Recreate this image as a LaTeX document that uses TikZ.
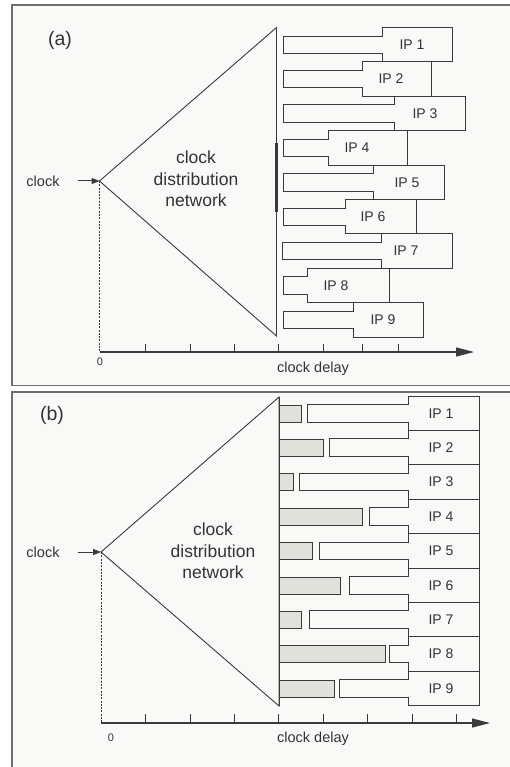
\documentclass[tikz,border=0pt]{standalone}
\usepackage{fontspec}
\setmainfont{Liberation Sans}
\usetikzlibrary{arrows.meta}
\definecolor{bg}{HTML}{F9F9F8}
\definecolor{ln}{HTML}{3A3A3A}
\definecolor{fr}{HTML}{6E6E6E}
\definecolor{barfill}{HTML}{E1E1DC}
\definecolor{txt}{HTML}{333333}
\tikzset{
  frame/.style={draw=fr, line width=1.3pt},
  tri/.style={draw=ln, line width=0.9pt, line join=miter},
  ipbox/.style={draw=ln, line width=0.9pt, fill=bg},
  gbar/.style={draw=ln, line width=0.9pt, fill=barfill},
  iplabel/.style={text=txt, font=\fontsize{14}{16}\selectfont, inner sep=0pt},
  biglabel/.style={text=txt, font=\fontsize{17.5}{21.5}\selectfont, align=center, inner sep=0pt},
  smalllabel/.style={text=txt, font=\fontsize{14.5}{16}\selectfont, inner sep=0pt},
  panellabel/.style={text=txt, font=\fontsize{19.5}{22}\selectfont, inner sep=0pt},
  axis/.style={draw=ln, line width=1.1pt, -{Triangle[length=18pt,width=9pt]}},
  tick/.style={draw=ln, line width=0.9pt},
  guide/.style={draw=ln, line width=0.8pt, dash pattern=on 2pt off 1.3pt},
  clkarrow/.style={draw=ln, line width=1pt, -{Triangle[length=8pt,width=6pt]}},
}
% IP shape: #1 top y, #2 stalk left, #3 box left, #4 box right
\newcommand{\ipshape}[4]{%
  \draw[ipbox] (#2,#1+8.5) -- (#3,#1+8.5) -- (#3,#1) -- (#4,#1) -- (#4,#1+34.4)
    -- (#3,#1+34.4) -- (#3,#1+26) -- (#2,#1+26) -- cycle;}
\begin{document}
\begin{tikzpicture}[x=1pt,y=-1pt]
\useasboundingbox (0,0) rectangle (509,767);
\fill[white] (0,0) rectangle (509,767);
\fill[bg] (12,5) rectangle (512,385.5);
\fill[bg] (12,392) rectangle (512,772);
\draw[frame] (12,385.5) -- (512,385.5);
\draw[frame] (512,5) -- (12,5) -- (12,385.5);
\draw[frame] (512,392) -- (12,392) -- (12,772);

% ================= panel (a) =================
\node[panellabel] (la) at (60,40) {(a)};
\coordinate (aA) at (99.5,181);
\coordinate (aT) at (276.5,27.5);
\coordinate (aB) at (276.5,336);
\draw[tri] (aA) -- (aT) -- (aB) -- cycle;
\coordinate (tbt) at (276.5,143);
\coordinate (tbb) at (276.5,212);
\draw[draw=ln, line width=2.1pt] (tbt) -- (tbb);
\node[biglabel] (cdna) at (196,179) {clock\\distribution\\network};
\node[smalllabel] (clka) at (43,181) {clock};
\coordinate (clkas) at (78,181);
\draw[clkarrow] (clkas) -- (aA);
\coordinate (a0) at (99.5,352);
\coordinate (aend) at (474,352);
\draw[guide] (aA) -- (a0);
\draw[axis] (a0) -- (aend);
\foreach \x in {145,190,234,278,323,362,398}
  \draw[tick] (\x,352) -- (\x,344);
\node[text=txt, font=\fontsize{11}{12}\selectfont, inner sep=0pt] (za) at (100,362) {0};
\node[smalllabel] (cda) at (313,369) {clock delay};

\ipshape{27.5}{283}{382}{452}
\ipshape{61.9}{283}{362}{431}
\ipshape{96.3}{283}{394}{465}
\ipshape{130.7}{283}{328}{407}
\ipshape{165.1}{283}{373}{444}
\ipshape{199.5}{283}{345}{416}
\ipshape{233.9}{282}{381}{452}
\ipshape{268.3}{283}{307}{389}
\ipshape{302.7}{283}{353}{423}
\node[iplabel] (ipa1) at (412,44.7) {IP 1};
\node[iplabel] (ipa2) at (391,79.1) {IP 2};
\node[iplabel] (ipa3) at (425,113.5) {IP 3};
\node[iplabel] (ipa4) at (357,147.9) {IP 4};
\node[iplabel] (ipa5) at (407,182.3) {IP 5};
\node[iplabel] (ipa6) at (373,216.7) {IP 6};
\node[iplabel] (ipa7) at (406,251.1) {IP 7};
\node[iplabel] (ipa8) at (336,285.5) {IP 8};
\node[iplabel] (ipa9) at (383,319.9) {IP 9};

% ================= panel (b) =================
\node[panellabel] (lb) at (52,415) {(b)};
\coordinate (bA) at (101,552);
\coordinate (bT) at (279,397);
\coordinate (bB) at (279,706);
\draw[tri] (bA) -- (bT) -- (bB) -- cycle;
\node[biglabel] (cdnb) at (213,551) {clock\\distribution\\network};
\node[smalllabel] (clkb) at (43,552) {clock};
\coordinate (clkbs) at (78,552);
\draw[clkarrow] (clkbs) -- (bA);
\coordinate (b0) at (101,723);
\coordinate (bend) at (490,723);
\draw[guide] (bA) -- (b0);
\draw[axis] (b0) -- (bend);
\foreach \x in {145,190,234,278,323,367,412,456}
  \draw[tick] (\x,723) -- (\x,714);
\node[text=txt, font=\fontsize{11}{12}\selectfont, inner sep=0pt] (zb) at (111,738) {0};
\node[smalllabel] (cdb) at (313,739) {clock delay};

\foreach \t/\br/\sl [count=\i] in {396/301/307, 430.4/323/329, 464.8/293/299,
    499.2/362/369, 533.6/312/319, 568/340/349, 602.4/301/309, 636.8/385/389, 671.2/334/339}{
  \draw[gbar] (279,\t+9) rectangle (\br,\t+26);
  \ipshape{\t}{\sl}{408}{479}
  \node[iplabel] (ipb\i) at (441,\t+17.2) {IP \i};
}
\draw[tri] (bT) -- (bB);
\end{tikzpicture}
\end{document}
